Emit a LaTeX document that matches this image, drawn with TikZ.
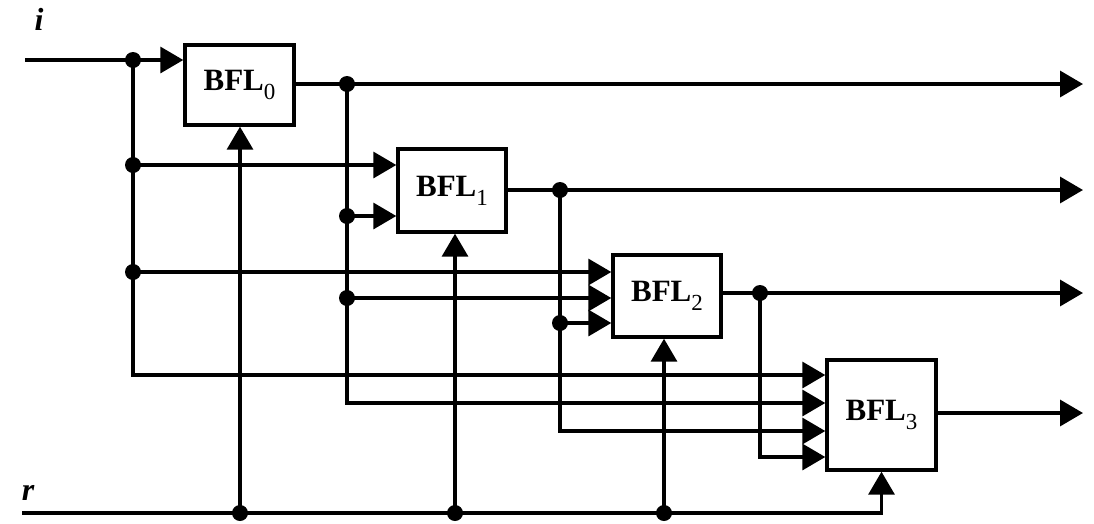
\documentclass[tikz,border=0pt]{standalone}
\usepackage{fontspec}
\setmainfont{Liberation Serif}
\usetikzlibrary{arrows.meta}
\newcommand{\blklabel}[1]{\fontsize{31}{31}\selectfont\bfseries BFL\raisebox{-9pt}{\fontsize{23}{23}\selectfont\mdseries #1}}
\begin{document}
\begin{tikzpicture}[x=1pt,y=-1pt,line width=3.4pt,
  blk/.style={draw, inner sep=0pt},
  arr/.style={-{Triangle[length=23pt,width=26pt]}},
  dot/.style={fill=black}]
\useasboundingbox (0,0) rectangle (1094,523);
% blocks
\node[blk, minimum width=109pt, minimum height=80pt] (b0) at (239.5,85) {\blklabel{0}};
\node[blk, minimum width=108pt, minimum height=83pt] (b1) at (452,190.5) {\blklabel{1}};
\node[blk, minimum width=108pt, minimum height=82pt] (b2) at (667,296) {\blklabel{2}};
\node[blk, minimum width=109pt, minimum height=110pt] (b3) at (881.5,415) {\blklabel{3}};
% labels
\node[font=\fontsize{32}{32}\selectfont\bfseries\itshape] (ilab) at (39,19) {i};
\node[font=\fontsize{32}{32}\selectfont\bfseries\itshape] (rlab) at (28,493) {r};
% coordinates
\coordinate (iin) at (25,60);
\coordinate (rin) at (22,513);
\coordinate (a0) at (133,60);
\coordinate (a1) at (133,165);
\coordinate (a2) at (133,272);
\coordinate (a3) at (133,375);
\coordinate (c0) at (347,84);
\coordinate (c1) at (347,216);
\coordinate (c2) at (347,298);
\coordinate (c3) at (347,403);
\coordinate (d0) at (560,190);
\coordinate (d1) at (560,323);
\coordinate (d2) at (560,431);
\coordinate (e0) at (760,293);
\coordinate (e1) at (760,457);
\coordinate (r0) at (240,513);
\coordinate (r1) at (455,513);
\coordinate (r2) at (664,513);
\coordinate (o0) at (1083,84);
\coordinate (o1) at (1083,190);
\coordinate (o2) at (1083,293);
\coordinate (o3) at (1083,413);
% input i
\draw (iin) -- (a0);
\draw[arr] (a0) -- (a0 -| b0.west);
\draw[arr] (a0) -- (a3) -- (a3 -| b3.west);
\draw[arr] (a1) -- (a1 -| b1.west);
\draw[arr] (a2) -- (a2 -| b2.west);
% BFL0 output
\draw[arr] (b0.east |- c0) -- (o0);
\draw[arr] (c0) -- (c3) -- (c3 -| b3.west);
\draw[arr] (c1) -- (c1 -| b1.west);
\draw[arr] (c2) -- (c2 -| b2.west);
% BFL1 output
\draw[arr] (b1.east |- d0) -- (o1);
\draw[arr] (d0) -- (d2) -- (d2 -| b3.west);
\draw[arr] (d1) -- (d1 -| b2.west);
% BFL2 output
\draw[arr] (b2.east |- e0) -- (o2);
\draw[arr] (e0) -- (e1) -- (e1 -| b3.west);
% BFL3 output
\draw[arr] (b3.east |- o3) -- (o3);
% r line
\draw[arr] (rin) -- (b3.south |- rin) -- (b3.south);
\draw[arr] (r0) -- (r0 |- b0.south);
\draw[arr] (r1) -- (r1 |- b1.south);
\draw[arr] (r2) -- (r2 |- b2.south);
% dots
\foreach \p in {a0,a1,a2,c0,c1,c2,d0,d1,e0,r0,r1,r2}
  \fill[dot] (\p) circle (8);
\end{tikzpicture}
\end{document}
